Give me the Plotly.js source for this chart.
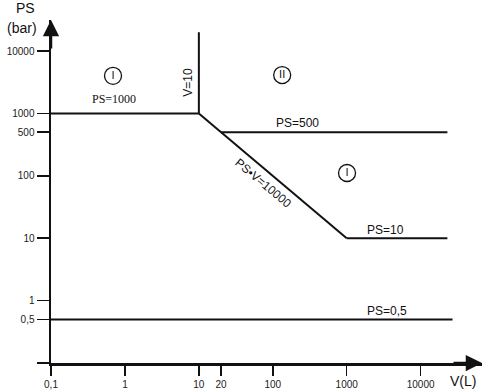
<!DOCTYPE html>
<html>
<head>
<meta charset="utf-8">
<script src="https://cdn.plot.ly/plotly-3.0.1.min.js"></script>
<style>html,body{margin:0;padding:0;background:#fff;}#chart{width:489px;height:391px;}</style>
</head>
<body>
<div id="chart"></div>
<script>
// Boundary lines: volume V (L) and pressure PS (bar) at both ends
const lineNames = ['PS=1000', 'V=10', 'PS•V=10000', 'PS=500', 'PS=10', 'PS=0,5'];
const lineV  = [[0.1, 10], [10, 10], [10, 1000], [20, 23000], [1000, 23000], [0.1, 27000]];
const linePS = [[1000, 1000], [1000, 20000], [1000, 10], [500, 500], [10, 10], [0.5, 0.5]];

// Category regions (roman numerals) placed at V, PS
const regionText = ['I', 'II', 'I'];
const regionV  = [0.69, 134, 1010];
const regionPS = [4000, 4120, 111];

// Tick labels
const xTickVals = [0.1, 1, 10, 20, 100, 1000, 10000];
const xTickText = ['0,1', '1', '10', '20', '100', '1000', '10000'];
const yTickVals = [0.1, 0.5, 1, 10, 100, 500, 1000, 10000];
const yTickText = ['', '0,5', '1', '10', '100', '500', '1000', '10000'];

const traces = lineNames.map((n, i) => ({
  type: 'scatter', mode: 'lines', name: n,
  x: lineV[i], y: linePS[i],
  line: {color: '#111', width: 2},
  hoverinfo: 'skip', showlegend: false
}));

traces.push({
  type: 'scatter', mode: 'markers+text',
  x: regionV, y: regionPS, text: regionText,
  textposition: 'middle center',
  textfont: {family: 'Liberation Sans, Arial, sans-serif', size: 11, color: '#111'},
  marker: {symbol: 'circle-open', size: 17, color: '#111', line: {width: 1.3, color: '#111'}},
  showlegend: false, hoverinfo: 'skip'
});

const sans = 'Liberation Sans, Arial, sans-serif';
const L = Math.log10;
const ann = [
  {text: 'PS=1000', x: L(0.71), y: L(1700), font: {family: 'Liberation Serif, Times New Roman, serif', size: 12, color: '#111'}},
  {text: 'V=10', x: L(7.1), y: L(3200), textangle: -90, font: {family: sans, size: 12, color: '#111'}},
  {text: 'PS=500', x: L(213), y: L(700), font: {family: sans, size: 12, color: '#111'}},
  {text: 'PS•V=10000', x: L(74), y: L(77), textangle: 40, font: {family: sans, size: 12, color: '#111'}},
  {text: 'PS=10', x: L(3300), y: L(13.5), font: {family: sans, size: 12, color: '#111'}},
  {text: 'PS=0,5', x: L(3500), y: L(0.68), font: {family: sans, size: 12, color: '#111'}},
].map(a => Object.assign({xref: 'x', yref: 'y', showarrow: false}, a));

// axis titles
ann.push({text: 'PS', xref: 'paper', yref: 'paper', x: -0.06, y: 1.035, xanchor: 'center', yanchor: 'middle', showarrow: false, font: {family: sans, size: 14, color: '#111'}});
ann.push({text: '(bar)', xref: 'paper', yref: 'paper', x: -0.068, y: 0.977, xanchor: 'center', yanchor: 'middle', showarrow: false, font: {family: sans, size: 14, color: '#111'}});
ann.push({text: 'V(L)', xref: 'paper', yref: 'paper', x: 0.955, y: -0.053, xanchor: 'center', yanchor: 'middle', showarrow: false, font: {family: sans, size: 14, color: '#111'}});
// axis arrows
ann.push({text: '', xref: 'paper', yref: 'paper', x: 0, y: 1, ax: 0, ay: 30, showarrow: true, arrowhead: 2, arrowsize: 1.3, arrowwidth: 2.5, arrowcolor: '#111'});
ann.push({text: '', xref: 'paper', yref: 'paper', x: 1, y: 0, ax: -30, ay: 0, showarrow: true, arrowhead: 2, arrowsize: 1.3, arrowwidth: 2.5, arrowcolor: '#111'});

const layout = {
  width: 489, height: 391,
  margin: {l: 51, r: 7, t: 20, b: 28},
  paper_bgcolor: '#fff', plot_bgcolor: '#fff',
  showlegend: false,
  xaxis: {
    type: 'log', range: [-1, 4.83],
    tickvals: xTickVals, ticktext: xTickText,
    ticks: 'outside', ticklen: 10, tickwidth: 1.5, tickcolor: '#111',
    showline: true, linewidth: 2.5, linecolor: '#111',
    showgrid: false, zeroline: false,
    tickfont: {family: sans, size: 10, color: '#222'}
  },
  yaxis: {
    type: 'log', range: [-1, 4.497],
    tickvals: yTickVals, ticktext: yTickText,
    ticks: 'outside', ticklen: 12, tickwidth: 1.5, tickcolor: '#111',
    showline: true, linewidth: 2.5, linecolor: '#111',
    showgrid: false, zeroline: false,
    tickfont: {family: sans, size: 10, color: '#222'}
  },
  annotations: ann
};

Plotly.newPlot('chart', traces, layout, {staticPlot: true, displayModeBar: false});
</script>
</body>
</html>
